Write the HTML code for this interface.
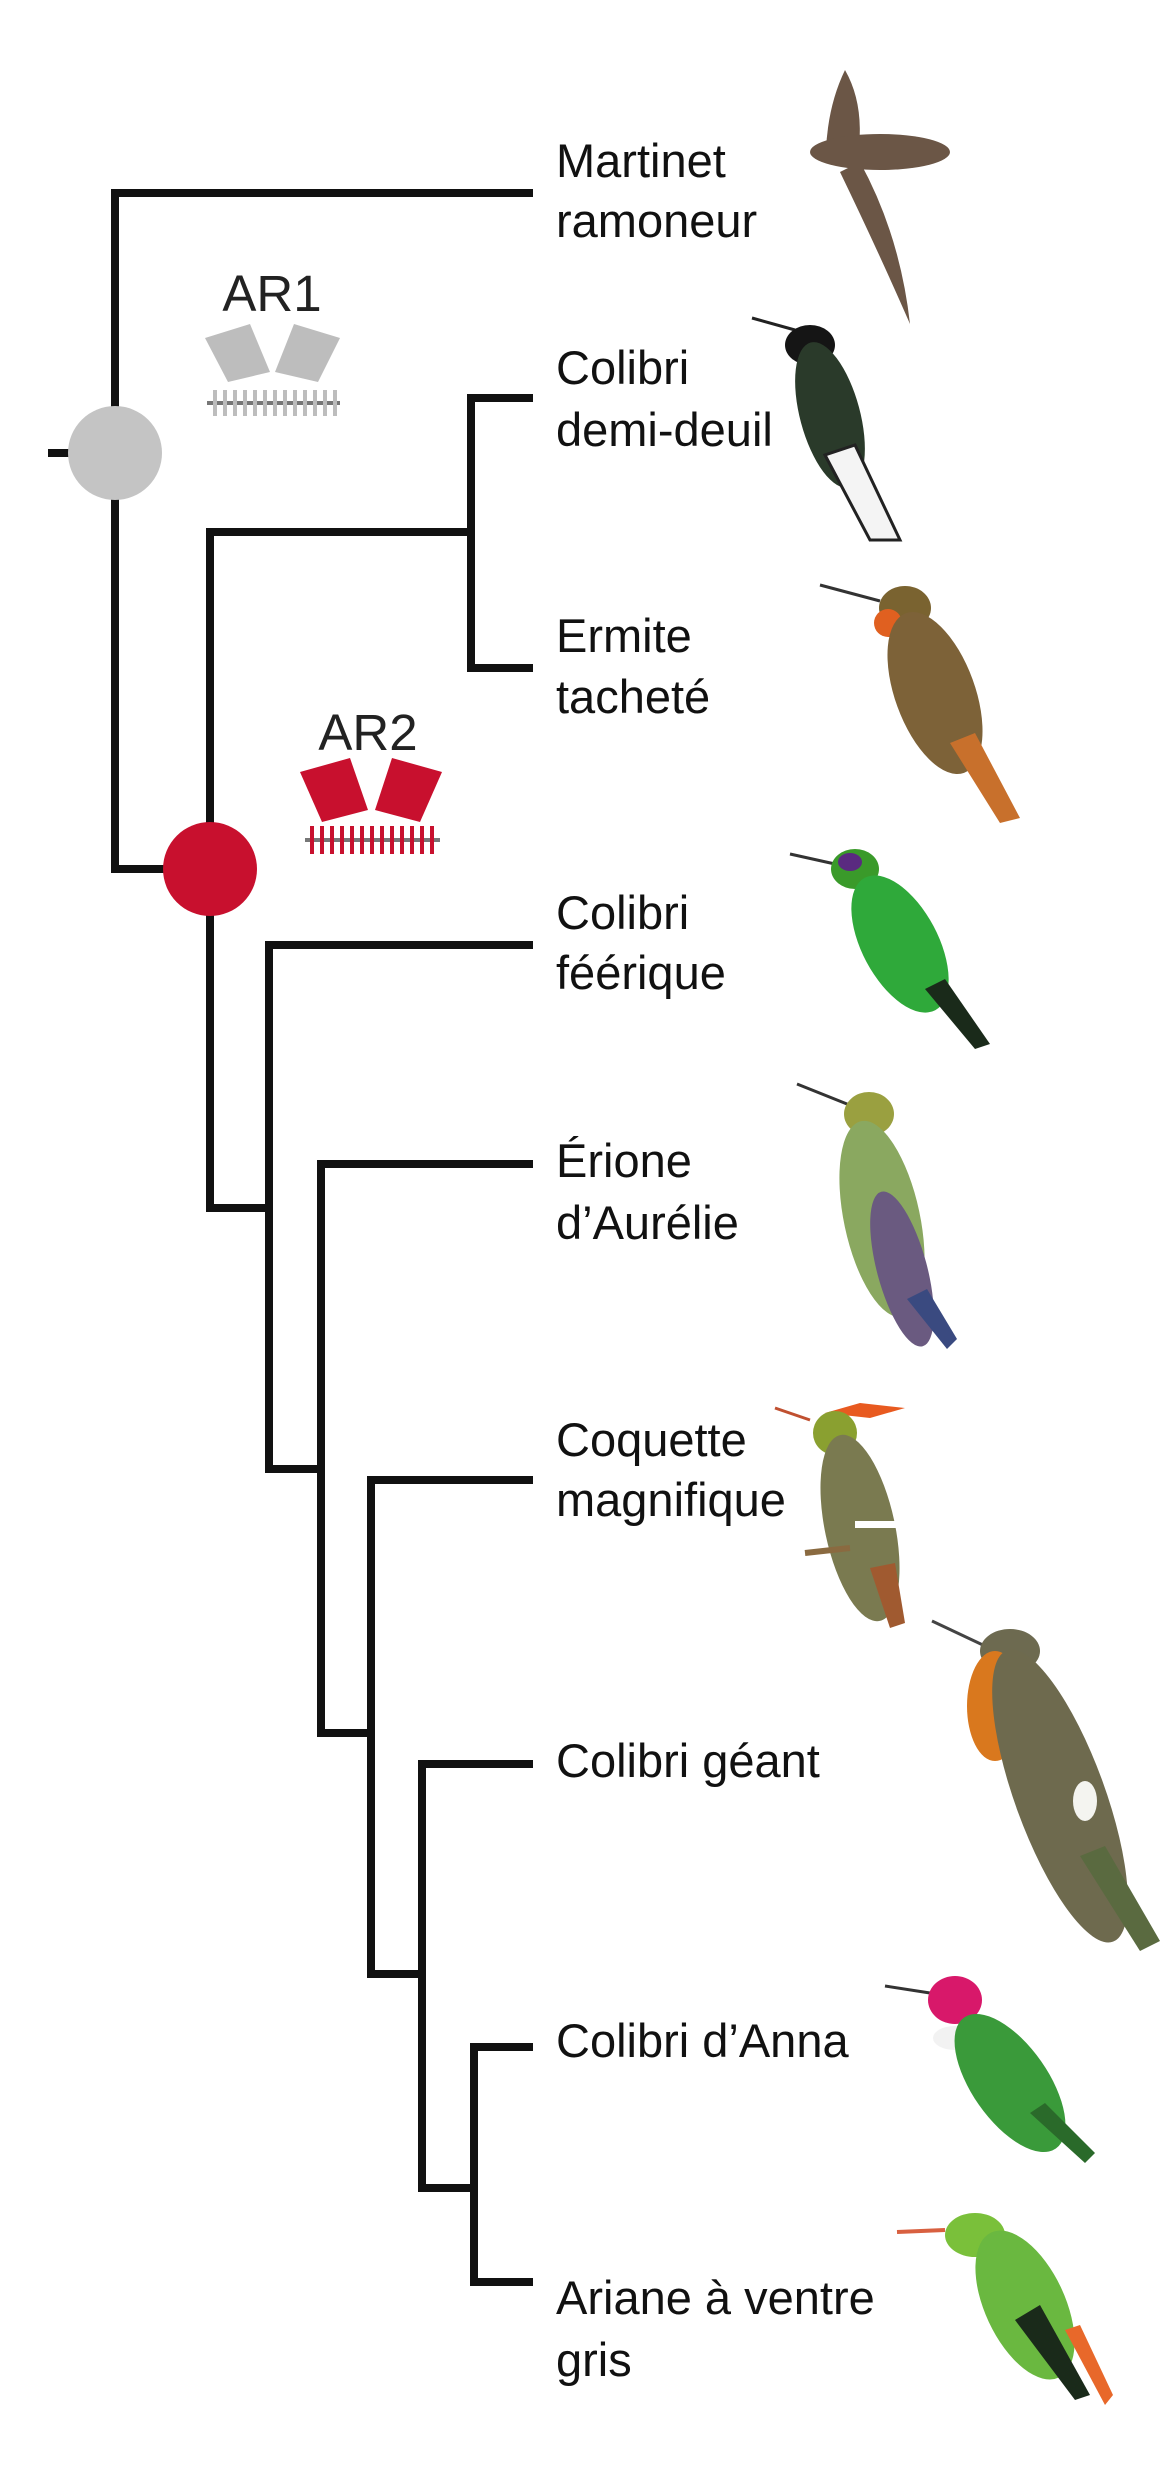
<!DOCTYPE html>
<html><head><meta charset="utf-8"><style>
html,body{margin:0;padding:0;background:#fff}
body{width:1172px;height:2480px;overflow:hidden}
svg{display:block}
text{font-family:"Liberation Sans",sans-serif}
</style></head><body>
<svg width="1172" height="2480" viewBox="0 0 1172 2480" xmlns="http://www.w3.org/2000/svg">
<g stroke="#111" stroke-width="8" fill="none" stroke-linecap="square">
<path d="M529 193 H115 V869 H210"/>
<path d="M52 453 H70"/>
<path d="M210 869 V532 H471"/>
<path d="M529 398 H471 V668 H529"/>
<path d="M210 869 V1208 H269"/>
<path d="M529 945 H269 V1469 H321"/>
<path d="M529 1164 H321 V1733 H371"/>
<path d="M529 1480 H371 V1974 H422"/>
<path d="M529 1764 H422 V2188 H474"/>
<path d="M529 2047 H474 V2282 H529"/>
</g>
<circle cx="115" cy="453" r="47" fill="#c4c4c4"/>
<circle cx="210" cy="869" r="47" fill="#c8102e"/>

<text x="272" y="311" font-size="51" text-anchor="middle" fill="#222">AR1</text>
<g fill="#bdbdbd">
<path d="M205 338 L250 324 L270 372 L228 382 Z"/>
<path d="M275 372 L294 324 L340 338 L318 382 Z"/>
</g>
<line x1="207" y1="403" x2="340" y2="403" stroke="#777" stroke-width="4"/>
<path d="M215 390 v26 m10 -26 v26 m10 -26 v26 m10 -26 v26 m10 -26 v26 m10 -26 v26 m10 -26 v26 m10 -26 v26 m10 -26 v26 m10 -26 v26 m10 -26 v26 m10 -26 v26 m10 -26 v26" stroke="#bdbdbd" stroke-width="4" fill="none"/>

<text x="368" y="750" font-size="51" text-anchor="middle" fill="#222">AR2</text>
<g fill="#c8102e">
<path d="M300 772 L350 758 L368 810 L322 822 Z"/>
<path d="M375 810 L392 758 L442 772 L420 822 Z"/>
</g>
<line x1="305" y1="840" x2="440" y2="840" stroke="#777" stroke-width="4"/>
<path d="M312 826 v28 m10 -28 v28 m10 -28 v28 m10 -28 v28 m10 -28 v28 m10 -28 v28 m10 -28 v28 m10 -28 v28 m10 -28 v28 m10 -28 v28 m10 -28 v28 m10 -28 v28 m10 -28 v28" stroke="#c8102e" stroke-width="4" fill="none"/>

<g font-size="47" fill="#111">
<text x="556" y="177">Martinet</text><text x="556" y="237">ramoneur</text>
<text x="556" y="384">Colibri</text><text x="556" y="446">demi-deuil</text>
<text x="556" y="652">Ermite</text><text x="556" y="713">tacheté</text>
<text x="556" y="929">Colibri</text><text x="556" y="989">féérique</text>
<text x="556" y="1177">Érione</text><text x="556" y="1239">d’Aurélie</text>
<text x="556" y="1456">Coquette</text><text x="556" y="1516">magnifique</text>
<text x="556" y="1777">Colibri géant</text>
<text x="556" y="2057">Colibri d’Anna</text>
<text x="556" y="2314">Ariane à ventre</text><text x="556" y="2376">gris</text>
</g>

<!-- Martinet -->
<g fill="#6b5646">
<path d="M845 70 Q865 105 858 155 L826 150 Q828 105 845 70Z"/>
<ellipse cx="880" cy="152" rx="70" ry="18"/>
<path d="M860 162 Q900 235 910 324 Q880 255 840 172Z"/>
</g>
<!-- Demi-deuil -->
<g transform="translate(10 15)">
<line x1="742" y1="303" x2="785" y2="315" stroke="#222" stroke-width="3"/>
<ellipse cx="800" cy="330" rx="25" ry="20" fill="#151515"/>
<ellipse cx="820" cy="400" rx="30" ry="75" transform="rotate(-15 820 400)" fill="#2a3a2a"/>
<path d="M815 440 L860 525 L890 525 L845 430Z" fill="#f4f4f4" stroke="#222" stroke-width="3"/>
</g>
<!-- Ermite -->
<g transform="translate(0 23)">
<line x1="820" y1="562" x2="880" y2="578" stroke="#333" stroke-width="3"/>
<ellipse cx="905" cy="585" rx="26" ry="22" fill="#7a6330"/>
<ellipse cx="888" cy="600" rx="14" ry="14" fill="#e06020"/>
<ellipse cx="935" cy="670" rx="40" ry="85" transform="rotate(-20 935 670)" fill="#7d6238"/>
<path d="M950 720 L1000 800 L1020 795 L975 710Z" fill="#c8702c"/>
</g>
<!-- Feerique -->
<g transform="translate(0 44)">
<line x1="790" y1="810" x2="835" y2="820" stroke="#333" stroke-width="3"/>
<ellipse cx="855" cy="825" rx="24" ry="20" fill="#3a9a2a"/>
<ellipse cx="850" cy="818" rx="12" ry="9" fill="#5a2a80"/>
<ellipse cx="900" cy="900" rx="38" ry="75" transform="rotate(-28 900 900)" fill="#2fa93a"/>
<path d="M925 945 L975 1005 L990 1000 L945 935Z" fill="#1a2a1a"/>
</g>
<!-- Erione -->
<g transform="translate(-8 49)">
<line x1="805" y1="1035" x2="855" y2="1055" stroke="#333" stroke-width="3"/>
<ellipse cx="877" cy="1065" rx="25" ry="22" fill="#9aa040"/>
<ellipse cx="890" cy="1170" rx="38" ry="100" transform="rotate(-12 890 1170)" fill="#8aa860"/>
<ellipse cx="910" cy="1220" rx="25" ry="80" transform="rotate(-15 910 1220)" fill="#6a5a80"/>
<path d="M915 1250 L955 1300 L965 1290 L935 1240Z" fill="#3a4a80"/>
</g>
<!-- Coquette -->
<g transform="translate(0 8)">
<line x1="775" y1="1400" x2="810" y2="1412" stroke="#c05030" stroke-width="3"/>
<path d="M825 1405 L860 1395 L905 1400 L870 1410Z" fill="#e85a20"/>
<ellipse cx="835" cy="1425" rx="22" ry="22" fill="#8aa030"/>
<ellipse cx="860" cy="1520" rx="35" ry="95" transform="rotate(-12 860 1520)" fill="#7a7a50"/>
<rect x="855" y="1513" width="45" height="7" fill="#fff"/>
<path d="M870 1560 L890 1620 L905 1615 L895 1555Z" fill="#a05a30"/>
<line x1="805" y1="1545" x2="850" y2="1540" stroke="#8a6a40" stroke-width="6"/>
</g>
<!-- Geant -->
<g transform="translate(0 6)">
<line x1="932" y1="1615" x2="985" y2="1640" stroke="#444" stroke-width="3"/>
<ellipse cx="1010" cy="1645" rx="30" ry="22" fill="#6d6a50"/>
<ellipse cx="995" cy="1700" rx="28" ry="55" fill="#d9781e"/>
<ellipse cx="1060" cy="1790" rx="45" ry="155" transform="rotate(-20 1060 1790)" fill="#6e6a4e"/>
<ellipse cx="1085" cy="1795" rx="12" ry="20" fill="#f4f4f0"/>
<path d="M1080 1850 L1140 1945 L1160 1935 L1105 1840Z" fill="#5a6a40"/>
</g>
<!-- Anna -->
<g transform="translate(0 38)">
<line x1="885" y1="1948" x2="930" y2="1955" stroke="#333" stroke-width="3"/>
<ellipse cx="955" cy="1962" rx="27" ry="24" fill="#d8186a"/>
<ellipse cx="955" cy="2000" rx="22" ry="12" fill="#f2f2f2"/>
<ellipse cx="1010" cy="2045" rx="38" ry="80" transform="rotate(-35 1010 2045)" fill="#3a9a3a"/>
<path d="M1030 2075 L1085 2125 L1095 2115 L1045 2065Z" fill="#2a6a2a"/>
</g>
<!-- Ariane -->
<g transform="translate(-5 50)">
<line x1="902" y1="2182" x2="950" y2="2180" stroke="#d86040" stroke-width="4"/>
<ellipse cx="980" cy="2185" rx="30" ry="22" fill="#7ac03a"/>
<ellipse cx="1030" cy="2255" rx="40" ry="80" transform="rotate(-25 1030 2255)" fill="#6ab840"/>
<path d="M1020 2270 L1080 2350 L1095 2345 L1045 2255Z" fill="#1a2a1a"/>
<path d="M1070 2280 L1110 2355 L1118 2345 L1085 2275Z" fill="#e8682a"/>
</g>
</svg>
</body></html>
